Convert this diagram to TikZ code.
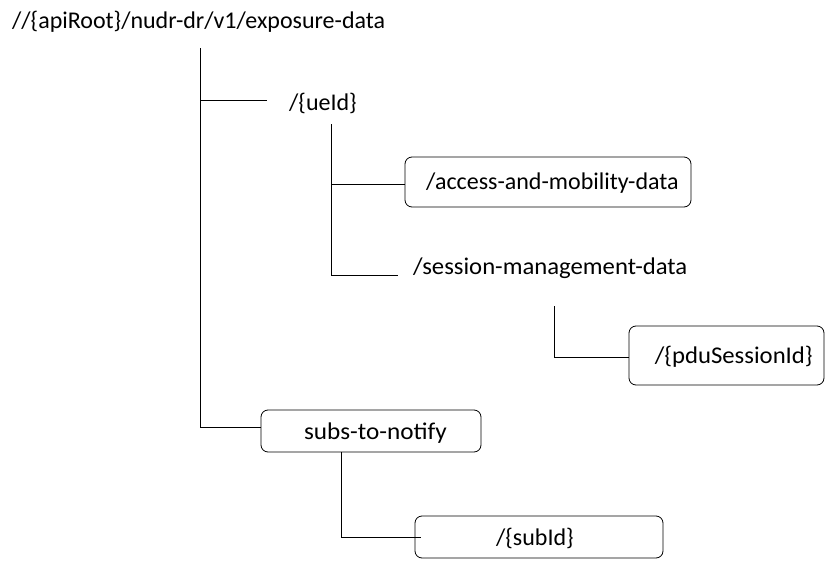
\documentclass[tikz,border=0pt]{standalone}
\usepackage{fontspec}
\setmainfont{Carlito}
\begin{document}
\begin{tikzpicture}[x=1pt,y=-1pt,
  lbl/.style={inner sep=0pt, anchor=west, font=\fontsize{24}{28}\selectfont},
  box/.style={draw, rounded corners=7pt, line width=0.8pt, inner sep=0pt},
  conn/.style={line width=0.8pt}]
\useasboundingbox (0,0) rectangle (828,562);
% texts
\node[lbl] (root) at (12,22) {//\{apiRoot\}/nudr-dr/v1/exposure-data};
\node[lbl] (ue) at (289,103) {/\{ueId\}};
\node[lbl] (sm) at (413,268) {\scalebox{1.03}[1]{/session-management-data}};
% boxes
\node[box, minimum width=286pt, minimum height=50pt] (am) at (548,182) {};
\node[lbl] (amt) at (426,183) {/access-and-mobility-data};
\node[box, minimum width=195pt, minimum height=59pt] (pdu) at (726.5,355.5) {};
\node[lbl, anchor=east] (pdut) at (813,357) {\scalebox{1.03}[1]{/\{pduSessionId\}}};
\node[box, minimum width=220pt, minimum height=42pt] (subs) at (371,431) {};
\node[lbl, anchor=center] (subst) at (375.5,433) {\scalebox{1.05}[1]{subs-to-notify}};
\node[box, minimum width=248pt, minimum height=42pt] (sub) at (539,537) {};
\node[lbl, anchor=center] (subt) at (535,538) {/\{subId\}};
% coordinates
\coordinate (r0) at (200,48);
\coordinate (r1) at (200,100);
\coordinate (r1e) at (267,100);
\coordinate (r2) at (200,427);
\coordinate (u0) at (331,124);
\coordinate (u1) at (331,184);
\coordinate (u2) at (331,275);
\coordinate (u2e) at (398,275);
\coordinate (s0) at (554,306);
\coordinate (s1) at (554,357);
\coordinate (t1) at (341,537);
\coordinate (t1e) at (421,537);
% connectors
\draw[conn] (r0) -- (r2) -- (subs.west |- r2);
\draw[conn] (r1) -- (r1e);
\draw[conn] (u0) -- (u2) -- (u2e);
\draw[conn] (u1) -- (am.west |- u1);
\draw[conn] (s0) -- (s1) -- (pdu.west |- s1);
\draw[conn] (subs.south -| t1) -- (t1) -- (t1e);
\end{tikzpicture}
\end{document}
